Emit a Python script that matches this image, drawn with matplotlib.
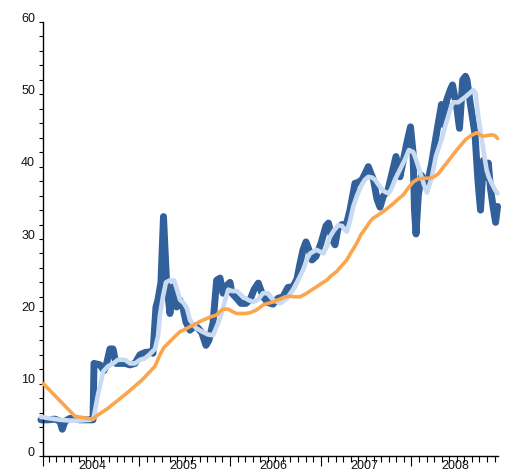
import matplotlib
matplotlib.use("Agg")
import matplotlib.pyplot as plt
import matplotlib.transforms as mtrans
import numpy as np

# ---- data (decimal years, values) ----
dark_t = [2003.916, 2003.993, 2004.071, 2004.126, 2004.151, 2004.181, 2004.236, 2004.291, 2004.346,
          2004.456, 2004.490, 2004.501, 2004.567, 2004.611, 2004.633, 2004.677, 2004.710, 2004.743,
          2004.842, 2004.897, 2004.953, 2005.008, 2005.063, 2005.118, 2005.151, 2005.184, 2005.206,
          2005.239, 2005.267, 2005.300, 2005.338, 2005.375, 2005.412, 2005.449, 2005.482, 2005.515,
          2005.559, 2005.614, 2005.647, 2005.691, 2005.735, 2005.768, 2005.813, 2005.853, 2005.890,
          2005.923, 2005.967, 2006.000, 2006.022, 2006.074, 2006.121, 2006.176, 2006.221, 2006.265,
          2006.312, 2006.367, 2006.419, 2006.474, 2006.529, 2006.584, 2006.639, 2006.695, 2006.739,
          2006.772, 2006.805, 2006.838, 2006.871, 2006.904, 2006.948, 2007.003, 2007.058, 2007.086,
          2007.125, 2007.158, 2007.191, 2007.235, 2007.279, 2007.323, 2007.378, 2007.411, 2007.455,
          2007.488, 2007.525, 2007.555, 2007.582, 2007.621, 2007.654, 2007.690, 2007.742, 2007.775,
          2007.830, 2007.874, 2007.911, 2007.948, 2007.990, 2008.018, 2008.034, 2008.051, 2008.076,
          2008.111, 2008.139, 2008.169, 2008.224, 2008.260, 2008.296, 2008.332, 2008.354, 2008.389,
          2008.425, 2008.453, 2008.499, 2008.530, 2008.566, 2008.596, 2008.613, 2008.646, 2008.701,
          2008.734, 2008.762, 2008.795, 2008.822, 2008.848, 2008.872, 2008.900, 2008.928, 2008.950]
dark_v = [5.0, 5.0, 5.1, 4.8, 3.7, 4.8, 5.2, 5.2, 5.0,
          5.0, 5.0, 12.8, 12.6, 11.8, 12.4, 14.8, 14.8, 12.8,
          12.8, 12.6, 12.8, 14.0, 14.3, 14.4, 14.2, 20.6, 21.6,
          24.0, 33.1, 24.3, 19.7, 23.4, 20.6, 21.5, 20.5, 18.5,
          17.4, 18.0, 17.7, 17.0, 15.3, 16.0, 18.4, 24.3, 24.6,
          22.5, 23.6, 24.0, 22.5, 21.8, 21.1, 21.1, 21.6, 23.0,
          23.9, 22.0, 21.2, 21.0, 21.8, 22.0, 23.3, 23.4, 24.5,
          26.6, 28.5, 29.6, 28.5, 27.1, 27.6, 29.4, 31.8, 32.2,
          30.0, 29.2, 31.5, 32.0, 31.8, 34.0, 37.7, 37.8, 38.2,
          39.0, 40.0, 39.0, 38.2, 35.5, 34.4, 35.9, 36.8, 38.5,
          41.4, 38.6, 40.9, 43.2, 45.5, 42.0, 34.0, 30.7, 36.0,
          38.8, 38.0, 37.2, 40.5, 43.3, 46.0, 48.6, 45.8, 49.2,
          50.5, 51.3, 48.3, 45.3, 52.0, 52.5, 52.0, 49.0, 44.5,
          38.0, 34.0, 40.9, 38.5, 40.5, 37.0, 34.5, 32.3, 34.5]

light_t = [2003.916, 2004.015, 2004.126, 2004.236, 2004.346, 2004.456, 2004.495, 2004.545, 2004.603,
           2004.655, 2004.713, 2004.765, 2004.842, 2004.897, 2004.953, 2005.008, 2005.063, 2005.118,
           2005.173, 2005.206, 2005.228, 2005.261, 2005.294, 2005.338, 2005.383, 2005.416, 2005.449,
           2005.493, 2005.526, 2005.559, 2005.625, 2005.691, 2005.757, 2005.813, 2005.857, 2005.908,
           2005.945, 2005.981, 2006.022, 2006.077, 2006.143, 2006.198, 2006.254, 2006.309, 2006.364,
           2006.419, 2006.474, 2006.551, 2006.628, 2006.695, 2006.750, 2006.805, 2006.849, 2006.882,
           2006.956, 2007.029, 2007.069, 2007.102, 2007.147, 2007.194, 2007.235, 2007.287, 2007.323,
           2007.359, 2007.400, 2007.452, 2007.488, 2007.525, 2007.566, 2007.599, 2007.654, 2007.698,
           2007.745, 2007.775, 2007.819, 2007.874, 2007.929, 2007.973, 2008.021, 2008.051, 2008.076,
           2008.106, 2008.139, 2008.172, 2008.224, 2008.271, 2008.334, 2008.370, 2008.407, 2008.437,
           2008.462, 2008.517, 2008.558, 2008.591, 2008.646, 2008.682, 2008.707, 2008.737, 2008.767,
           2008.793, 2008.830, 2008.855, 2008.885, 2008.922, 2008.949]
light_v = [5.4, 5.2, 5.0, 4.9, 4.9, 5.0, 5.2, 8.5, 11.7,
           12.4, 12.8, 13.3, 13.3, 12.8, 12.8, 13.3, 13.5, 14.1,
           14.8, 16.5, 19.5, 22.0, 24.0, 24.3, 24.3, 23.0, 21.6,
           21.1, 20.4, 18.8, 17.7, 17.2, 16.8, 16.7, 18.0, 19.7,
           21.5, 23.0, 22.8, 22.8, 22.0, 21.6, 21.3, 21.6, 22.5,
           22.5, 21.6, 21.1, 21.8, 23.0, 24.3, 25.7, 27.2, 28.0,
           28.5, 28.0, 29.0, 30.3, 31.2, 31.9, 31.8, 31.0, 32.5,
           34.5, 36.0, 37.5, 38.2, 38.6, 38.5, 38.2, 37.2, 36.6,
           36.3, 36.8, 38.2, 39.6, 41.0, 42.3, 42.0, 41.0, 40.0,
           38.8, 37.5, 36.4, 38.5, 41.5, 43.8, 45.5, 47.0, 48.3,
           48.9, 48.9, 49.3, 49.6, 50.2, 50.6, 50.2, 47.0, 44.5,
           42.3, 39.5, 38.5, 37.7, 36.8, 36.3]

orange_t = [2003.942, 2004.291, 2004.478, 2004.655, 2004.864, 2005.030, 2005.173, 2005.228, 2005.272,
            2005.320, 2005.383, 2005.449, 2005.504, 2005.559, 2005.614, 2005.669, 2005.724, 2005.779,
            2005.853, 2005.890, 2005.926, 2005.981, 2006.022, 2006.074, 2006.165, 2006.221, 2006.294,
            2006.367, 2006.419, 2006.477, 2006.551, 2006.606, 2006.661, 2006.717, 2006.772, 2006.846,
            2006.893, 2006.956, 2007.003, 2007.066, 2007.114, 2007.176, 2007.224, 2007.287, 2007.334,
            2007.397, 2007.444, 2007.507, 2007.543, 2007.580, 2007.632, 2007.690, 2007.742, 2007.800,
            2007.852, 2007.911, 2007.962, 2008.021, 2008.073, 2008.139, 2008.205, 2008.249, 2008.296,
            2008.337, 2008.389, 2008.444, 2008.499, 2008.547, 2008.602, 2008.657, 2008.720, 2008.757,
            2008.793, 2008.833, 2008.885, 2008.922, 2008.949]
orange_v = [10.0, 5.5, 5.1, 6.6, 8.7, 10.5, 12.4, 14.0, 15.0,
            15.6, 16.4, 17.2, 17.5, 17.9, 18.2, 18.6, 18.9, 19.2,
            19.5, 20.0, 20.3, 20.3, 20.0, 19.7, 19.7, 19.8, 20.2,
            20.9, 21.1, 21.3, 21.7, 22.0, 22.1, 22.0, 22.0, 22.5,
            22.9, 23.4, 23.8, 24.3, 24.9, 25.5, 26.2, 27.1, 28.1,
            29.4, 30.6, 31.7, 32.4, 32.9, 33.3, 33.8, 34.3, 34.9,
            35.5, 36.1, 37.0, 37.9, 38.3, 38.4, 38.4, 38.6, 39.0,
            39.7, 40.5, 41.4, 42.3, 43.0, 43.8, 44.3, 44.7, 44.4,
            44.2, 44.3, 44.4, 44.3, 43.9]

years = [2004, 2005, 2006, 2007, 2008]
y_ticks = [0, 10, 20, 30, 40, 50, 60]

plt.rcParams['font.family'] = ['Liberation Sans', 'DejaVu Sans']

fig = plt.figure(figsize=(5.09, 4.73), dpi=100)
ax = fig.add_axes([43.3 / 509, 1 - 456 / 473, (498.3 - 43.3) / 509, (456 - 22) / 473])

kw = dict(solid_capstyle='round', solid_joinstyle='round', clip_on=False)
ax.plot(dark_t, dark_v, color='#31609a', lw=5.0, zorder=2, **kw)
ax.plot(light_t, light_v, color='#c9dbf1', lw=3.3, zorder=3, **kw)
ax.plot(orange_t, orange_v, color='#fba64d', lw=2.6, zorder=4, **kw)

x0, x1 = 2003.942, 2008.958
ax.set_xlim(x0, x1)
ax.set_ylim(0, 60)

for s in ['top', 'right']:
    ax.spines[s].set_visible(False)
for s in ['left', 'bottom']:
    ax.spines[s].set_color('black')
    ax.spines[s].set_linewidth(1.0)

# y axis
ax.set_yticks(y_ticks)
ax.set_yticks(np.arange(0, 61, 2), minor=True)
ax.tick_params(axis='y', which='both', direction='out', length=3, width=0.8, colors='black',
               labelsize=9, pad=3)
ax.tick_params(axis='y', labelcolor='#111111')
offset = mtrans.ScaledTranslation(0, 5 / 100, fig.dpi_scale_trans)
for lab in ax.get_yticklabels():
    lab.set_transform(lab.get_transform() + offset)

# x axis
major_x = [x0] + [y + 1 for y in years[:-1]]
ax.set_xticks(major_x)
ax.set_xticklabels([''] * len(major_x))
minor_x = [y + m / 12 for y in years for m in range(12) if x0 < y + m / 12 < x1 and m != 0]
minor_x.append(2004.0)
ax.set_xticks(minor_x, minor=True)
ax.tick_params(axis='x', which='major', direction='out', length=7, width=0.8, colors='black')
ax.tick_params(axis='x', which='minor', direction='out', length=4.5, width=0.8, colors='black')
for y in years:
    ax.text(y + 0.48, -0.6, str(y), transform=ax.transData, ha='center', va='top',
            fontsize=9, color='#111111')

fig.savefig('out.png', dpi=100)
